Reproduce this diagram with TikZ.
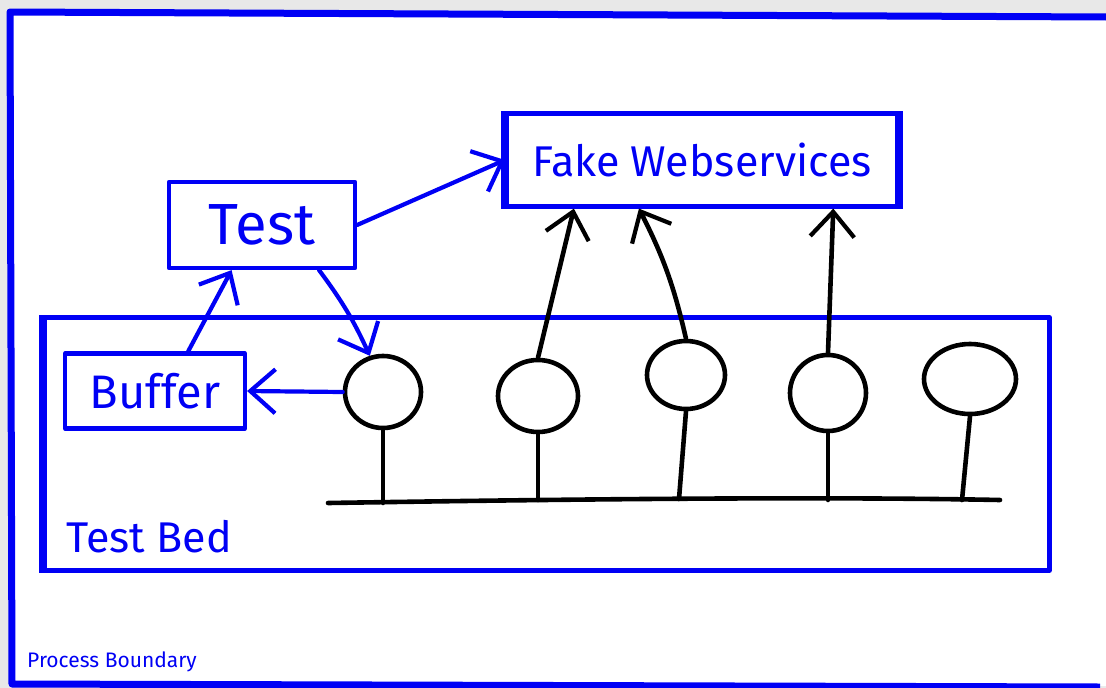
\documentclass[tikz,border=0pt]{standalone}
\usepackage{fontspec}
\setmainfont{Fira Sans}
\usetikzlibrary{arrows.meta,shapes.geometric,calc}
\definecolor{inkblue}{RGB}{0,0,245}
\tikzset{
  blueline/.style={draw=inkblue, line width=4.2pt, line cap=round, line join=round},
  blackline/.style={draw=black, line width=4.6pt, line cap=round, line join=round},
  bbox/.style={blueline, rectangle, inner sep=0pt, text=inkblue},
  bubble/.style={blackline, ellipse, inner sep=0pt},
  barb/.style={-{Straight Barb[length=25pt,width=44pt,line width=4.2pt]}},
  lbl/.style={text=inkblue, inner sep=0pt, anchor=base west},
}
\begin{document}
\begin{tikzpicture}[x=1pt,y=-1pt]
\useasboundingbox (0,0) rectangle (1106,688);
% paper and shadow
\fill[black!9] (0,0) rectangle (1106,688);
\fill[white] (10,12) -- (1106,17) -- (1106,686) -- (12,684) -- cycle;
% process boundary
\draw[draw=inkblue, line width=7pt, line join=round] (1106,17) -- (10,12) -- (12,684) -- (1100,687);
\node[lbl, font=\fontsize{21}{22}\selectfont] (pb) at (27,667) {Process Boundary};

% test bed
\node[bbox, minimum width=1005, minimum height=253] (bed) at (547,444) {};
\draw[draw=inkblue, line width=7pt] (bed.north west) -- (bed.south west);
\node[lbl, font=\fontsize{43}{45}\selectfont] (bedlbl) at (66,552) {Test Bed};

% boxes
\node[bbox, minimum width=186, minimum height=86, font=\fontsize{58}{60}\selectfont] (test) at (262,225) {Test};
\node[bbox, minimum width=390, minimum height=93, font=\fontsize{43}{45}\selectfont] (fake) at (702,160) {Fake Webservices};
\draw[draw=inkblue, line width=8pt] (fake.north west) -- (fake.south west);
\draw[draw=inkblue, line width=7pt] (fake.north east) -- (fake.south east);
\node[bbox, minimum width=180, minimum height=75, font=\fontsize{47}{49}\selectfont] (buffer) at (155,391) {Buffer};

% bubbles on the bus
\node[bubble, minimum width=76, minimum height=72] (n1) at (383,392) {};
\node[bubble, minimum width=80, minimum height=72] (n2) at (538,396) {};
\node[bubble, minimum width=78, minimum height=68] (n3) at (686,375) {};
\node[bubble, minimum width=76, minimum height=76] (n4) at (828,393) {};
\node[bubble, minimum width=92, minimum height=70] (n5) at (970,379) {};

% bus line
\coordinate (busL) at (328,503);
\coordinate (busR) at (1000,500);
\draw[blackline] (busL) .. controls (520,500) and (800,496) .. (busR);
\coordinate (s3) at (679,499);
\coordinate (s5) at (962,500);
\draw[blackline] (n1.south) -- (n1.south |- busL);
\draw[blackline] (n2.south) -- (n2.south |- busR);
\draw[blackline] (n3.south) -- (s3);
\draw[blackline] (n4.south) -- (n4.south |- busR);
\draw[blackline] (n5.south) -- (s5);

% calls to the fake services
\draw[blackline, barb] (n2.north) -- ($(fake.south west)!0.175!(fake.south east)$);
\draw[blackline, barb] (n3.north) to[bend right=7] ($(fake.south west)!0.34!(fake.south east)$);
\draw[blackline, barb] (n4.north) -- ($(fake.south west)!0.833!(fake.south east)$);

% test wiring
\draw[blueline, barb] (test.east) -- (fake.west);
\draw[blueline, barb] ($(test.south west)!0.8!(test.south east)$) to[bend left=6] (n1.110);
\draw[blueline, barb] ($(buffer.north west)!0.68!(buffer.north east)$) -- ($(test.south west)!0.34!(test.south east)$);
\draw[blueline, barb] (n1.west) -- (buffer.east);
\end{tikzpicture}
\end{document}
